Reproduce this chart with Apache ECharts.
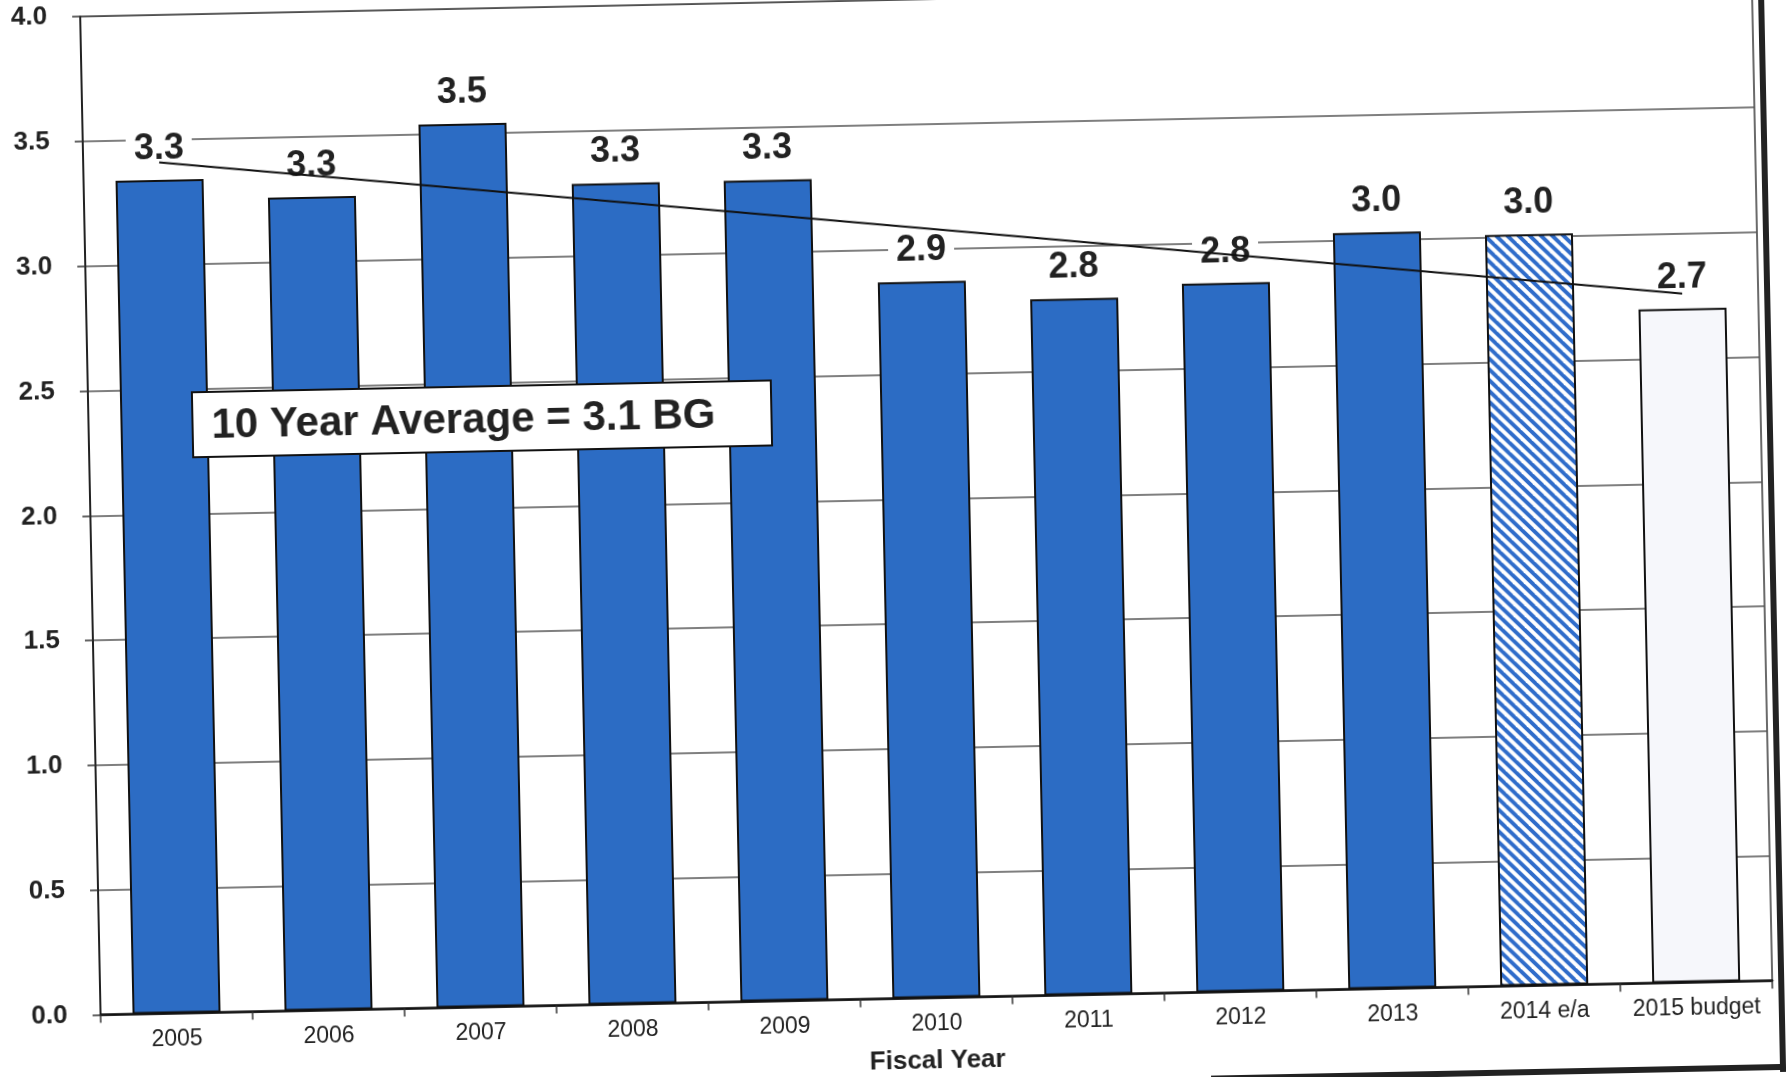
<!DOCTYPE html>
<html>
<head>
<meta charset="utf-8">
<script src="https://cdn.jsdelivr.net/npm/echarts@6/dist/echarts.min.js"></script>
<style>
  html, body { margin:0; padding:0; width:1786px; height:1077px; overflow:hidden; background:#fff; }
  #wrap { position:absolute; left:-50px; top:-50px; width:1886px; height:1177px;
          transform-origin:943px 588px; transform:rotate(-1.17deg); background:#fff; }
</style>
</head>
<body>
<div id="wrap"></div>
<script>
// ---- data ----
const categories = ['2005','2006','2007','2008','2009','2010','2011','2012','2013','2014 e/a','2015 budget'];
const values     = [3.34, 3.26, 3.54, 3.29, 3.29, 2.87, 2.79, 2.84, 3.03, 3.01, 2.70];
const barKinds   = ['actual','actual','actual','actual','actual','actual','actual','actual','actual','estimate','budget'];
const trendCategories = ['2005', '2015 budget'];
const trendValues     = [3.41, 2.76];
const yMin = 0, yMax = 4, yStep = 0.5;
const averageText = '10 Year Average = 3.1 BG';
const xAxisTitle = 'Fiscal Year';

// ---- styling ----
const FONT = 'Liberation Sans, Arial, sans-serif';
const BLUE = '#2C6CC4';

function hatchCanvas() {
  const s = 11;
  const c = document.createElement('canvas');
  c.width = s; c.height = s;
  const ctx = c.getContext('2d');
  ctx.fillStyle = '#ffffff';
  ctx.fillRect(0, 0, s, s);
  ctx.strokeStyle = '#2f6cca';
  ctx.lineWidth = 3.9;
  for (const k of [-s, 0, s]) {
    ctx.beginPath();
    ctx.moveTo(k - 2, -2);
    ctx.lineTo(k + s + 2, s + 2);
    ctx.stroke();
  }
  return c;
}
const hatch = { image: hatchCanvas(), repeat: 'repeat' };

const kindStyle = {
  actual:   { color: BLUE },
  estimate: { color: hatch },
  budget:   { color: '#f6f7fb' }
};

const barData = values.map((v, i) => ({ value: v, itemStyle: kindStyle[barKinds[i]] }));
const trendData = trendCategories.map((c, i) => [categories.indexOf(c), trendValues[i]]);

const chart = echarts.init(document.getElementById('wrap'), null, { renderer: 'canvas' });

chart.setOption({
  animation: false,
  backgroundColor: '#ffffff',
  textStyle: { fontFamily: FONT },
  grid: {
    left: 141, right: 73, top: 50.2, bottom: 128.5,
    show: true, borderColor: '#3a3a3a', borderWidth: 1.5, backgroundColor: 'transparent'
  },
  xAxis: {
    type: 'category',
    data: categories,
    boundaryGap: true,
    axisLine: { show: true, lineStyle: { color: '#111', width: 2.5 } },
    axisTick: { show: true, length: 8, lineStyle: { color: '#333', width: 1.5 } },
    axisLabel: { interval: 0, fontSize: 23, color: '#222', margin: 15, fontFamily: FONT },
    name: xAxisTitle,
    nameLocation: 'middle',
    nameGap: 50,
    nameTextStyle: { fontSize: 26, fontWeight: 'bold', color: '#222', fontFamily: FONT }
  },
  yAxis: {
    type: 'value',
    min: yMin, max: yMax, interval: yStep,
    axisLine: { show: true, lineStyle: { color: '#222', width: 2 } },
    axisTick: { show: true, length: 8, lineStyle: { color: '#333', width: 1.5 } },
    axisLabel: {
      fontSize: 26, fontWeight: 'bold', color: '#222', margin: 33, fontFamily: FONT,
      formatter: v => v.toFixed(1)
    },
    splitLine: { show: true, lineStyle: { color: '#555', width: 1.5 } }
  },
  series: [
    {
      type: 'bar',
      data: barData,
      barWidth: 88,
      z: 2,
      itemStyle: { borderColor: '#111', borderWidth: 2 },
      label: {
        show: true, position: 'top', distance: 13,
        fontSize: 36, fontWeight: 'bold', color: '#222', fontFamily: FONT,
        backgroundColor: '#ffffff', padding: [0, 8],
        formatter: p => p.value.toFixed(1)
      }
    },
    {
      type: 'line',
      data: trendData,
      symbol: 'none',
      z: 6,
      silent: true,
      lineStyle: { color: '#111', width: 2 }
    }
  ],
  graphic: {
    elements: [
      { type: 'rect', z: 100, shape: { x: 245, y: 428, width: 579, height: 65 },
        style: { fill: '#ffffff', stroke: '#111', lineWidth: 2 } },
      { type: 'text', z: 101, x: 264, y: 462,
        style: { text: averageText, fill: '#222', font: 'bold 42px ' + FONT,
                 verticalAlign: 'middle', align: 'left' } },
      { type: 'line', z: 100, shape: { x1: 1822, y1: 0, x2: 1822, y2: 1140 },
        style: { stroke: '#222', lineWidth: 6 } },
      { type: 'line', z: 100, shape: { x1: 1250, y1: 1135, x2: 1825, y2: 1135 },
        style: { stroke: '#222', lineWidth: 6 } }
    ]
  }
});
</script>
</body>
</html>
